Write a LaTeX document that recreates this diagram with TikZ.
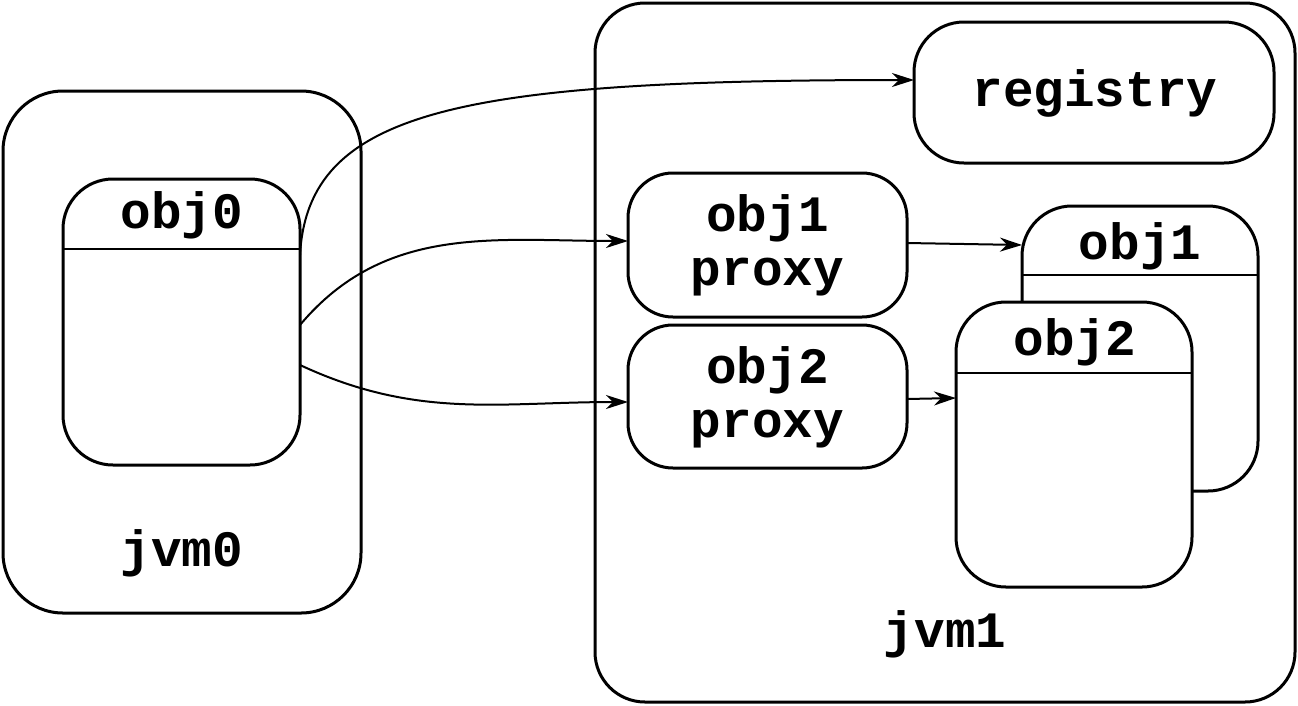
\documentclass[tikz,border=0pt]{standalone}
\usepackage{fontspec}
\setmonofont{Liberation Mono}
\usetikzlibrary{arrows.meta}
\begin{document}
\begin{tikzpicture}[x=1pt,y=-1pt,
  box/.style={draw, line width=3pt, rounded corners=#1, inner sep=0pt, outer sep=0pt},
  box/.default=50pt,
  lbl/.style={font=\ttfamily\bfseries\fontsize{51}{54}\selectfont, align=center, inner sep=0pt},
  conn/.style={line width=2pt, -{Stealth[length=22pt, width=14pt, inset=7pt]}}]
\useasboundingbox (0,0) rectangle (1298,705);
% jvm0
\node[box=60pt, minimum width=358pt, minimum height=522pt] (jvm0) at (182,352) {};
\node[box, fill=white, minimum width=237pt, minimum height=286pt] (obj0) at (181.5,322) {};
\draw[line width=2pt] (obj0.west |- 0,249) -- (obj0.east |- 0,249);
\node[lbl] (t0) at (182,215) {obj0};
\node[lbl] (tj0) at (182,553) {jvm0};
% jvm1
\node[box, minimum width=700pt, minimum height=699pt] (jvm1) at (945,352.5) {};
\node[lbl] (tj1) at (945,634) {jvm1};
\node[box, minimum width=360pt, minimum height=141pt] (reg) at (1094,92.5) {};
\node[lbl] (treg) at (1095,93) {registry};
\node[box=45pt, minimum width=279pt, minimum height=144pt] (p1) at (767.5,245) {};
\node[lbl] (tp1) at (767.5,245) {obj1\\proxy};
\node[box=45pt, minimum width=279pt, minimum height=143pt] (p2) at (767.5,396.5) {};
\node[lbl] (tp2) at (767.5,397) {obj2\\proxy};
% obj1
\node[box, fill=white, minimum width=236pt, minimum height=285pt] (obj1) at (1140,348.5) {};
\draw[line width=2pt] (obj1.west |- 0,275) -- (obj1.east |- 0,275);
\node[lbl] (t1) at (1140,246) {obj1};
% obj2
\node[box, fill=white, minimum width=236pt, minimum height=285pt] (obj2) at (1074,444.5) {};
\draw[line width=2pt] (obj2.west |- 0,373) -- (obj2.east |- 0,373);
\node[lbl] (t2) at (1075,342) {obj2};
% connectors
\coordinate (s0) at (300,255);
\coordinate (s1) at (300,325);
\coordinate (s2) at (300,365);
\coordinate (c0a) at (308,110);
\coordinate (c0b) at (460,80);
\draw[conn] (s0) .. controls (c0a) and (c0b) .. (reg.west |- 0,80);
\draw[conn] (s1) to[out=50, in=180] (p1.west |- 0,241);
\draw[conn] (s2) to[out=-25, in=180] (p2.west |- 0,402);
\draw[conn] (p1.east |- 0,243) -- (obj1.west |- 0,245);
\draw[conn] (p2.east |- 0,399) -- (obj2.west |- 0,398);
\end{tikzpicture}
\end{document}
